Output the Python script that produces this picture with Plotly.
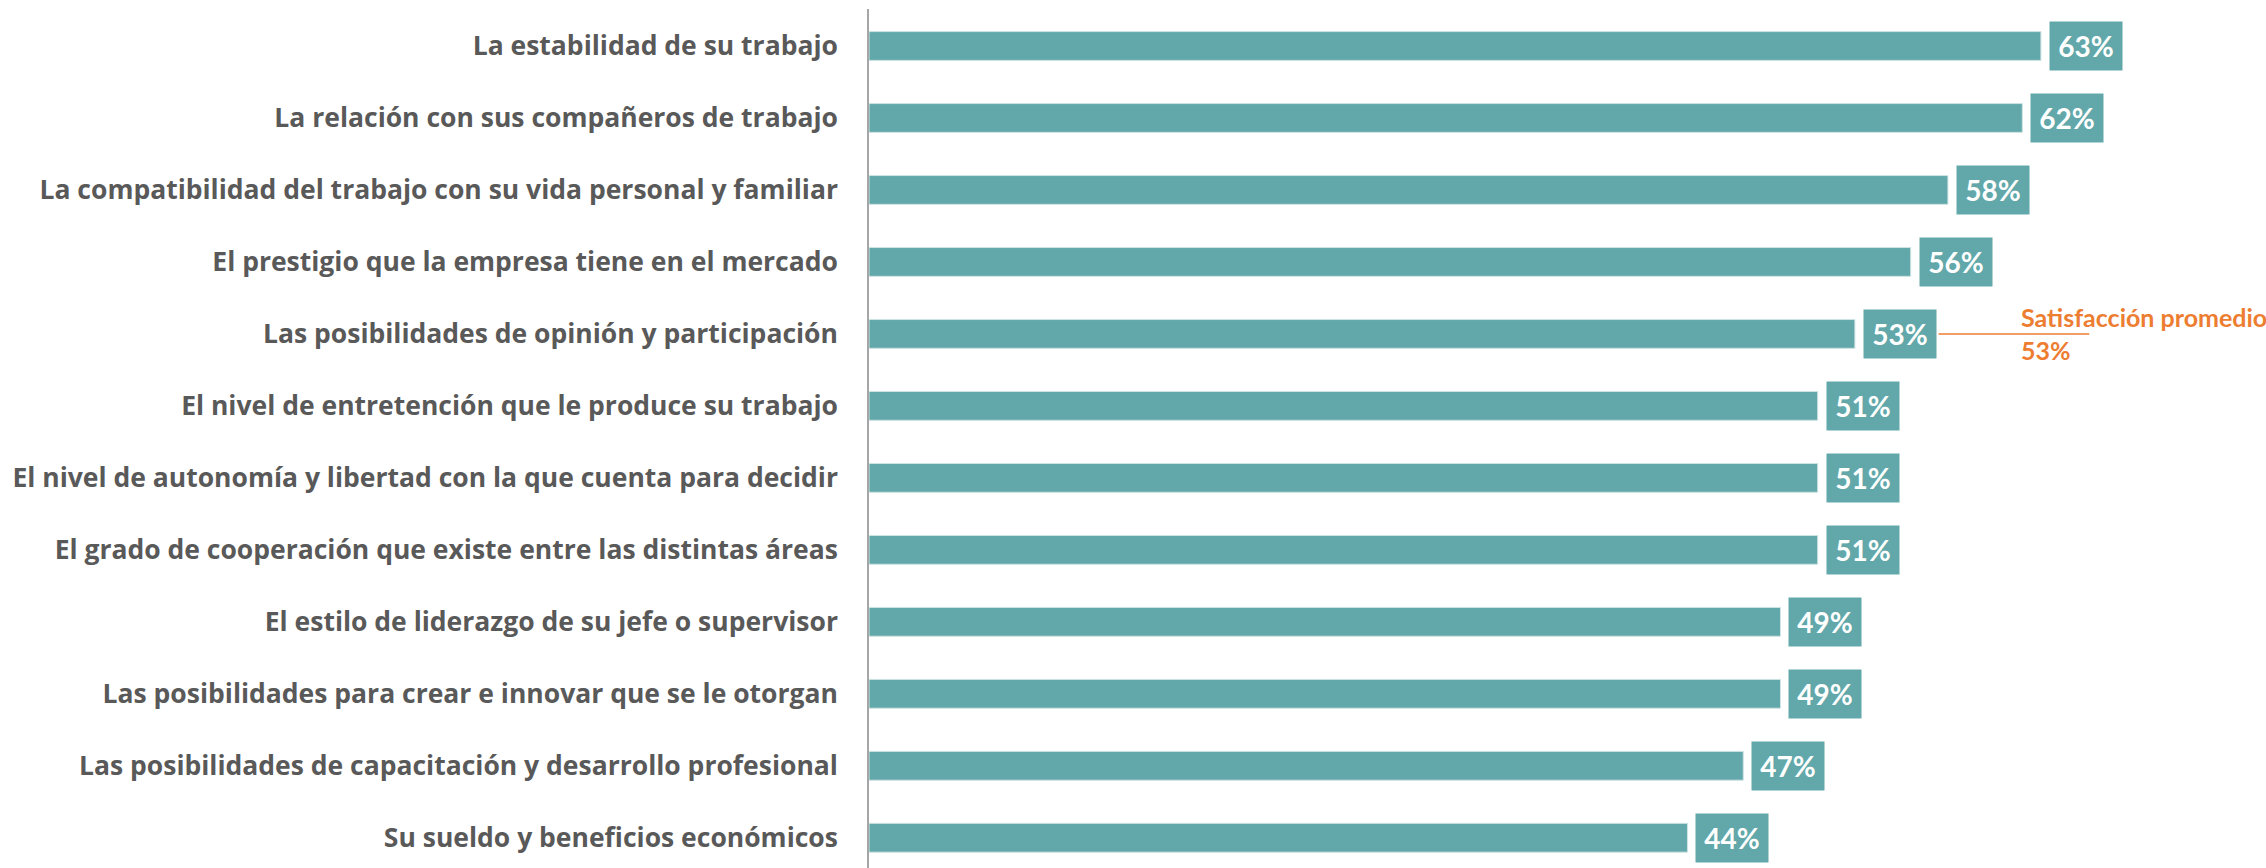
import plotly.graph_objects as go

categories = [
    "La estabilidad de su trabajo",
    "La relación con sus compañeros de trabajo",
    "La compatibilidad del trabajo con su vida personal y familiar",
    "El prestigio que la empresa tiene en el mercado",
    "Las posibilidades de opinión y participación",
    "El nivel de entretención que le produce su trabajo",
    "El nivel de autonomía y libertad con la que cuenta para decidir",
    "El grado de cooperación que existe entre las distintas áreas",
    "El estilo de liderazgo de su jefe o supervisor",
    "Las posibilidades para crear e innovar que se le otorgan",
    "Las posibilidades de capacitación y desarrollo profesional",
    "Su sueldo y beneficios económicos",
]
values = [63, 62, 58, 56, 53, 51, 51, 51, 49, 49, 47, 44]
average_label = "Satisfacción promedio"
average_value = 53
average_category = "Las posibilidades de opinión y participación"

TEAL = "#62A8AA"
ORANGE = "#ED7D31"
GRAY = "#595959"

fig = go.Figure()
fig.add_trace(go.Bar(
    x=values, y=categories, orientation="h",
    marker=dict(color=TEAL, line=dict(color="#cfe3e3", width=1)),
    width=0.40, hoverinfo="x+y",
))

annotations = []
for c, v in zip(categories, values):
    annotations.append(dict(
        x=v, y=c, xref="x", yref="y", text=f"<b>{v}%</b>",
        showarrow=False, xanchor="left", yanchor="middle", xshift=8,
        bgcolor=TEAL, borderpad=6, width=60, height=36, align="center",
        font=dict(family="Lato", size=28, color="white"),
    ))

annotations.append(dict(
    x=61.8, y=average_category, xref="x", yref="y",
    text=f"<b>{average_label}</b><br><b>{average_value}%</b>",
    showarrow=False, xanchor="left", yanchor="middle", align="left",
    font=dict(family="Lato", size=25, color=ORANGE),
))

fig.update_layout(
    width=2266, height=868,
    margin=dict(l=869, r=0, t=9, b=0),
    paper_bgcolor="white", plot_bgcolor="white",
    showlegend=False,
    annotations=annotations,
    shapes=[dict(type="line", xref="x", yref="y",
                 x0=57.5, x1=65.6, y0=average_category, y1=average_category,
                 line=dict(color=ORANGE, width=1.5))],
    xaxis=dict(range=[0, 75.1], visible=False, fixedrange=True),
    yaxis=dict(
        categoryorder="array", categoryarray=categories,
        range=[11.42, -0.514],
        showline=True, linecolor="#A6A6A6", linewidth=1.5,
        showgrid=False, zeroline=False, ticks="",
        ticklabelstandoff=24, fixedrange=True,
        tickfont=dict(family="Open Sans", size=26.5, color=GRAY, weight="bold"),
    ),
)

fig.write_html(
    "out.html",
    config={"displayModeBar": False},
    post_script="document.body.style.margin='0';document.body.style.overflow='hidden';",
)
